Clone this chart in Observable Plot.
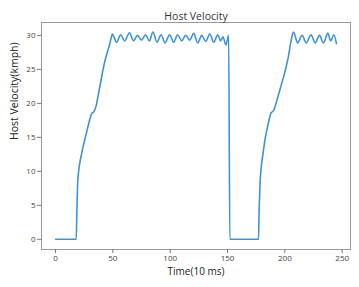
<!DOCTYPE html>
<html>
<head>
<meta charset="utf-8">
<script src="https://cdn.jsdelivr.net/npm/d3@7"></script>
<script src="https://cdn.jsdelivr.net/npm/@observablehq/plot@0.6"></script>
<style>
  html, body { margin: 0; padding: 0; background: #fff; }
  #chart { width: 359px; height: 287px; }
</style>
</head>
<body>
<div id="chart"></div>
<script>
const title = "Host Velocity";
const xLabel = "Time(10 ms)";
const yLabel = "Host Velocity(kmph)";
const xTicks = [0, 50, 100, 150, 200, 250];
const yTicks = [0, 5, 10, 15, 20, 25, 30];

const time = [
  0, 18, 18.6, 19.2, 20, 22, 24, 26, 28, 30, 31.5, 33.5, 35.5, 37, 39, 41, 43, 45, 47, 48.5, 49.5,
  53.2, 56.8, 60.3, 64.5, 68, 71.5, 75, 78.5, 81.8, 85, 88.5, 92, 95.5, 99.5, 103, 106.5, 110, 113.5,
  117, 120.5, 124, 127.5, 131, 134.5, 138, 141.5, 144, 146, 148.6, 151, 152,
  177, 177.6, 178.3, 179.2, 180.7, 182.5, 185, 188, 190, 192, 194, 197, 200, 203, 205.4, 207.5,
  211.2, 215, 218.7, 222.8, 226.4, 230.2, 233.7, 237.5, 240, 242.7, 245
];
const velocity = [
  0, 0, 4, 8, 9.8, 12, 13.6, 15, 16.4, 17.7, 18.5, 18.8, 19.7, 21, 22.8, 24.6, 26.2, 27.4, 28.6, 29.6, 30.2,
  29.0, 30.1, 29.2, 30.4, 29.2, 30.0, 29.3, 30.1, 29.2, 30.5, 29.0, 30.1, 28.9, 30.1, 29.0, 30.1, 29.2, 30.0,
  29.3, 30.3, 28.9, 30.0, 29.1, 30.2, 29.0, 30.1, 29.2, 29.8, 28.6, 30.0, 0,
  0, 4.5, 8, 10.3, 12.3, 14.5, 16.6, 18.6, 18.9, 19.8, 21, 22.8, 24.6, 26.8, 29.2, 30.5,
  28.9, 30.0, 28.9, 30.1, 28.9, 30.0, 28.9, 30.3, 29.2, 30.1, 28.8
];

const data = time.map((t, i) => ({t, v: velocity[i]}));
const font = "'Open Sans', 'DejaVu Sans', sans-serif";

const chart = Plot.plot({
  width: 359,
  height: 287,
  marginLeft: 41,
  marginRight: 9,
  marginTop: 22,
  marginBottom: 38,
  style: {fontFamily: font, background: "#fff", color: "#333"},
  x: {domain: [-12.25, 257.25]},
  y: {domain: [-1.5, 31.9]},
  marks: [
    Plot.frame({stroke: "#999", strokeWidth: 1}),
    Plot.axisX({ticks: xTicks, tickSize: 4, tickPadding: 2, fontSize: 8, stroke: "#777", fill: "#444", label: null}),
    Plot.axisY({ticks: yTicks, tickSize: 4, tickPadding: 2, fontSize: 8, stroke: "#777", fill: "#444", label: null}),
    Plot.line(data, {x: "t", y: "v", stroke: "#3f93d3", strokeWidth: 1.6, curve: "monotone-x"}),
    Plot.text([title], {frameAnchor: "top", dy: -10, fontSize: 10.5, fill: "#333"}),
    Plot.text([xLabel], {frameAnchor: "bottom", dy: 25, fontSize: 10, fill: "#222"}),
    Plot.text([yLabel], {frameAnchor: "left", dx: -27, dy: 4, rotate: -90, fontSize: 10.5, fill: "#222"})
  ]
});
document.getElementById("chart").appendChild(chart);
</script>
</body>
</html>
